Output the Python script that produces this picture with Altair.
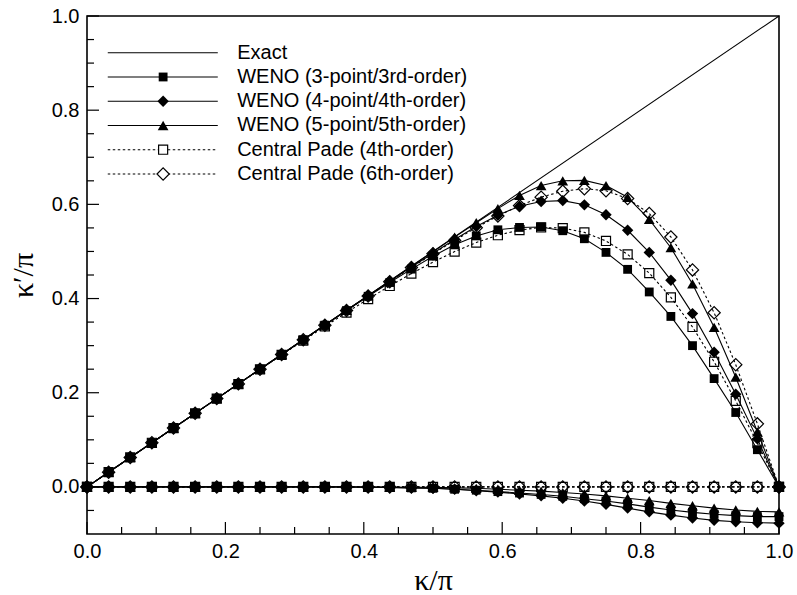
import altair as alt
import pandas as pd

# ---------------- data ----------------
kx = [0.0, 0.03125, 0.0625, 0.09375, 0.125, 0.15625, 0.1875, 0.21875, 0.25,
      0.28125, 0.3125, 0.34375, 0.375, 0.40625, 0.4375, 0.46875, 0.5,
      0.53125, 0.5625, 0.59375, 0.625, 0.65625, 0.6875, 0.71875, 0.75,
      0.78125, 0.8125, 0.84375, 0.875, 0.90625, 0.9375, 0.96875, 1.0]

exact_x = [0.0, 1.0]
exact_y = [0.0, 1.0]

weno3_re = [0.0, 0.03125, 0.0625, 0.09375, 0.125, 0.15625, 0.1875, 0.21875, 0.25,
            0.2812, 0.3124, 0.3435, 0.3745, 0.4048, 0.4340, 0.4625, 0.490,
            0.514, 0.533, 0.546, 0.551, 0.552, 0.544, 0.527, 0.498,
            0.462, 0.414, 0.362, 0.300, 0.230, 0.158, 0.079, 0.0]
weno3_im = [0.0, 0.0, 0.0, 0.0, 0.0, 0.0, 0.0, 0.0, 0.0,
            0.0, 0.0, 0.0, -0.0003, -0.0006, -0.001, -0.002, -0.003,
            -0.005, -0.007, -0.010, -0.013, -0.016, -0.020, -0.025, -0.030,
            -0.036, -0.043, -0.049, -0.054, -0.058, -0.061, -0.063, -0.063]

weno4_re = [0.0, 0.03125, 0.0625, 0.09375, 0.125, 0.15625, 0.1875, 0.21875, 0.25,
            0.28125, 0.3125, 0.3437, 0.3749, 0.4060, 0.4368, 0.4670, 0.4960,
            0.5255, 0.553, 0.577, 0.596, 0.606, 0.608, 0.599, 0.578,
            0.545, 0.498, 0.439, 0.368, 0.286, 0.197, 0.102, 0.0]
weno4_im = [0.0, 0.0, 0.0, 0.0, 0.0, 0.0, 0.0, 0.0, 0.0,
            0.0, 0.0, 0.0, -0.0003, -0.0007, -0.0012, -0.002, -0.003,
            -0.005, -0.008, -0.011, -0.015, -0.019, -0.024, -0.030, -0.037,
            -0.045, -0.053, -0.060, -0.066, -0.071, -0.074, -0.076, -0.077]

weno5_re = [0.0, 0.03125, 0.0625, 0.09375, 0.125, 0.15625, 0.1875, 0.21875, 0.25,
            0.28125, 0.3125, 0.34375, 0.375, 0.40625, 0.4375, 0.4686, 0.4995,
            0.5305, 0.561, 0.591, 0.619, 0.640, 0.650, 0.651, 0.640,
            0.615, 0.568, 0.508, 0.431, 0.339, 0.233, 0.117, 0.0]
weno5_im = [0.0, 0.0, 0.0, 0.0, 0.0, 0.0, 0.0, 0.0, 0.0,
            0.0, 0.0, 0.0, 0.0, 0.0, -0.0003, -0.0006, -0.001,
            -0.002, -0.003, -0.005, -0.007, -0.009, -0.012, -0.015, -0.019,
            -0.024, -0.029, -0.035, -0.040, -0.045, -0.049, -0.052, -0.053]

cp4_re = [0.0, 0.03125, 0.0625, 0.09374, 0.12498, 0.1562, 0.18737, 0.21846, 0.24943,
          0.28021, 0.31069, 0.34077, 0.37027, 0.3990, 0.42668, 0.45296, 0.47746,
          0.49966, 0.5189, 0.53448, 0.54549, 0.55094, 0.54969, 0.54054, 0.52227,
          0.49373, 0.45402, 0.40261, 0.33958, 0.26575, 0.18279, 0.09315, 0.0]
cp4_im = [0.0] * 33

cp6_re = [0.0, 0.03125, 0.0625, 0.09375, 0.125, 0.15625, 0.1875, 0.21875, 0.24997,
          0.28118, 0.31235, 0.34345, 0.37444, 0.40523, 0.43574, 0.46578, 0.49515,
          0.52352, 0.55047, 0.57535, 0.59735, 0.61536, 0.62794, 0.63321, 0.62891,
          0.61233, 0.58057, 0.53079, 0.46079, 0.36987, 0.25952, 0.13396, 0.0]
cp6_im = [0.0] * 33

labels = ["Exact", "WENO (3-point/3rd-order)", "WENO (4-point/4th-order)",
          "WENO (5-point/5th-order)", "Central Pade (4th-order)",
          "Central Pade (6th-order)"]

x_major = [0.0, 0.2, 0.4, 0.6, 0.8, 1.0]
x_minor = [0.05, 0.1, 0.15, 0.25, 0.3, 0.35, 0.45, 0.5, 0.55, 0.65, 0.7, 0.75,
           0.85, 0.9, 0.95]
y_major = [0.0, 0.2, 0.4, 0.6, 0.8, 1.0]
y_minor = [-0.05, 0.05, 0.1, 0.15, 0.25, 0.3, 0.35, 0.45, 0.5, 0.55, 0.65, 0.7,
           0.75, 0.85, 0.9, 0.95]

# ---------------- layout ----------------
W, H = 692, 518
SANS = "Liberation Sans"
SERIF = "Liberation Serif"

xs = alt.Scale(domain=[0, 1], nice=False, zero=False)
ys = alt.Scale(domain=[-0.1, 1.0], nice=False, zero=False)

xaxis = alt.Axis(values=x_major, format=".1f", ticks=False, grid=False, domain=False,
                 labelFont=SANS, labelFontSize=20, labelColor="black", labelPadding=7,
                 labelFlush=False, labelOverlap=False,
                 title="κ/π", titleFont=SERIF, titleFontSize=30, titleFontWeight="normal",
                 titleColor="black", titleX=346, titleY=55, titleAlign="center",
                 titleBaseline="alphabetic")
yaxis = alt.Axis(values=y_major, format=".1f", ticks=False, grid=False, domain=False,
                 labelFont=SANS, labelFontSize=20, labelColor="black", labelPadding=8,
                 labelFlush=False, labelOverlap=False,
                 title="κ′/π", titleFont=SERIF, titleFontSize=30, titleFontWeight="normal",
                 titleColor="black", titleAngle=270, titleX=-55, titleY=259,
                 titleAlign="center", titleBaseline="alphabetic")

X = alt.X("x:Q", scale=xs, axis=xaxis)
Y = alt.Y("y:Q", scale=ys, axis=yaxis)


def long(name, re, im):
    return pd.DataFrame({"x": kx + kx, "y": re + im,
                         "s": [name + "_re"] * len(kx) + [name + "_im"] * len(kx)})


d3 = long("w3", weno3_re, weno3_im)
d4 = long("w4", weno4_re, weno4_im)
d5 = long("w5", weno5_re, weno5_im)
c4 = long("c4", cp4_re, cp4_im)
c6 = long("c6", cp6_re, cp6_im)

# legend table (inside the plot, in data units)
n = len(labels)
leg = pd.DataFrame({
    "label": labels,
    "row": list(range(n)),
})
leg["y"] = 0.922 - 0.0515 * leg["row"]
leg["x"] = 0.030
leg["x2"] = 0.189
leg["xm"] = 0.110
leg["xt"] = 0.217

# ---------------- layers ----------------
tx_major = alt.Chart(pd.DataFrame({"x": x_major})).mark_rule(color="black", strokeWidth=1.2).encode(
    x=X, y=alt.value(H), y2=alt.value(H - 12))
tx_minor = alt.Chart(pd.DataFrame({"x": x_minor})).mark_rule(color="black", strokeWidth=1.2).encode(
    x=X, y=alt.value(H), y2=alt.value(H - 7))
ty_major = alt.Chart(pd.DataFrame({"y": y_major})).mark_rule(color="black", strokeWidth=1.2).encode(
    y=Y, x=alt.value(0), x2=alt.value(12))
ty_minor = alt.Chart(pd.DataFrame({"y": y_minor})).mark_rule(color="black", strokeWidth=1.2).encode(
    y=Y, x=alt.value(0), x2=alt.value(7))

exact = alt.Chart(pd.DataFrame({"x": exact_x, "y": exact_y})).mark_line(
    color="black", strokeWidth=1.1).encode(x=X, y=Y)

solid = alt.Chart(pd.concat([d3, d4, d5])).mark_line(color="black", strokeWidth=1.1).encode(
    x=X, y=Y, detail="s:N")
dashed = alt.Chart(pd.concat([c4, c6])).mark_line(
    color="black", strokeWidth=1.1, strokeDash=[2.5, 2.5]).encode(x=X, y=Y, detail="s:N")


def pts(df, shape, filled, size):
    kw = dict(shape=shape, size=size, opacity=1)
    if filled:
        m = alt.Chart(df).mark_point(filled=True, color="black", **kw)
    else:
        m = alt.Chart(df).mark_point(filled=False, color="black", strokeWidth=1.2, **kw)
    return m.encode(x=X, y=Y)


SQ, DM, TR, OSQ, ODM = 78, 130, 115, 82, 150

p3 = pts(d3, "square", True, SQ)
p4 = pts(d4, "diamond", True, DM)
p5 = pts(d5, "triangle-up", True, TR)
q4 = pts(c4, "square", False, OSQ)
q6 = pts(c6, "diamond", False, ODM)

leg_solid = alt.Chart(leg[leg["row"] < 4]).mark_rule(color="black", strokeWidth=1.1).encode(
    x=X, x2="x2:Q", y=Y)
leg_dash = alt.Chart(leg[leg["row"] >= 4]).mark_rule(
    color="black", strokeWidth=1.1, strokeDash=[2.5, 2.5]).encode(x=X, x2="x2:Q", y=Y)


def legpt(row, shape, filled, size):
    d = leg[leg["row"] == row]
    if filled:
        m = alt.Chart(d).mark_point(filled=True, color="black", shape=shape, size=size, opacity=1)
    else:
        m = alt.Chart(d).mark_point(filled=False, color="black", shape=shape, size=size,
                                    strokeWidth=1.2, opacity=1, fill="white")
    return m.encode(x=alt.X("xm:Q", scale=xs, axis=xaxis), y=Y)


lp = [legpt(1, "square", True, SQ), legpt(2, "diamond", True, DM),
      legpt(3, "triangle-up", True, TR), legpt(4, "square", False, OSQ),
      legpt(5, "diamond", False, ODM)]

leg_text = alt.Chart(leg).mark_text(align="left", baseline="middle", font=SANS,
                                    fontSize=20, color="black").encode(
    x=alt.X("xt:Q", scale=xs, axis=xaxis), y=Y, text="label:N")

chart = alt.layer(
    exact, solid, dashed, p3, p4, p5, q4, q6,
    tx_major, tx_minor, ty_major, ty_minor,
    leg_solid, leg_dash, *lp, leg_text
).properties(
    width=W, height=H,
    autosize=alt.AutoSizeParams(type="none"),
    padding={"left": 87, "top": 16, "right": 18, "bottom": 61},
    background="white",
).configure_view(stroke="black", strokeWidth=1.6)

chart.save("out.html", embed_options={"renderer": "svg", "actions": False})
